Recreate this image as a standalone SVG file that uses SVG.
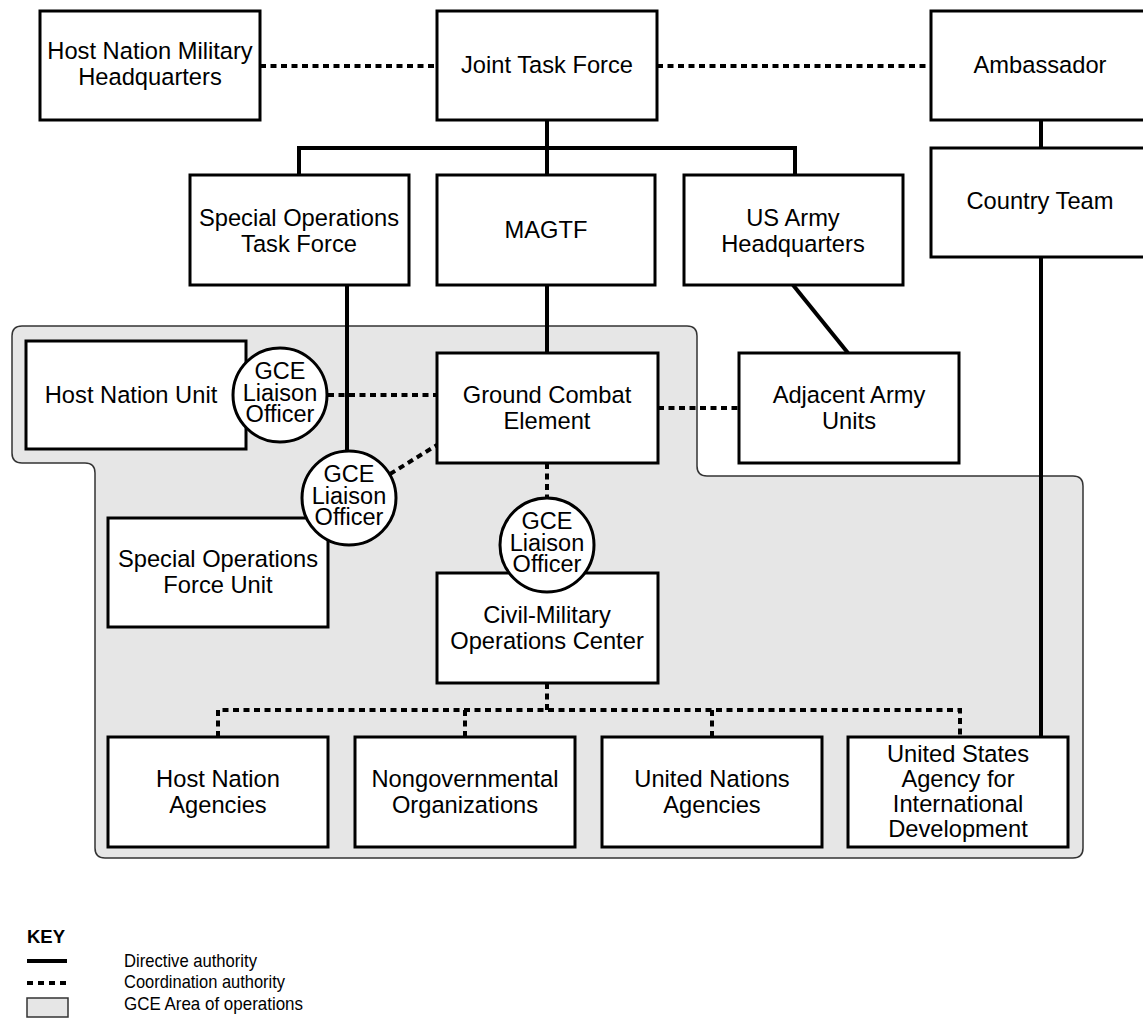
<svg xmlns="http://www.w3.org/2000/svg" width="1143" height="1019" viewBox="0 0 1143 1019">
  <style>
    .box { fill: #ffffff; stroke: #000000; stroke-width: 3; }
    .lo { fill: #ffffff; stroke: #000000; stroke-width: 3; }
    .lbl { font-family: "Liberation Sans", Arial, sans-serif; font-size: 23.7px; fill: #000000; text-anchor: middle; }
    .lol { font-family: "Liberation Sans", Arial, sans-serif; font-size: 23.5px; fill: #000000; text-anchor: middle; }
    .solid { stroke: #000000; stroke-width: 4; fill: none; }
    .dot { stroke: #000000; stroke-width: 4; fill: none; stroke-dasharray: 6 4.5; }
    .area { fill: #e6e6e6; stroke: #333333; stroke-width: 1.5; }
    .key { font-family: "Liberation Sans", Arial, sans-serif; font-size: 18.5px; fill: #000000; }
  </style>

  <!-- GCE area of operations -->
  <path id="gce-area" class="area" d="M 22 326 L 687 326 Q 697 326 697 336 L 697 466 Q 697 476 707 476 L 1073 476 Q 1083 476 1083 486 L 1083 848 Q 1083 858 1073 858 L 105 858 Q 95 858 95 848 L 95 473 Q 95 463 85 463 L 22 463 Q 12 463 12 453 L 12 336 Q 12 326 22 326 Z"/>

  <!-- connectors -->
  <g id="connectors">
    <!-- directive authority -->
    <line class="solid" x1="547" y1="120" x2="547" y2="148"/>
    <polyline class="solid" points="299,175 299,148 795,148 795,175"/>
    <line class="solid" x1="547" y1="148" x2="547" y2="175"/>
    <line class="solid" x1="547" y1="285" x2="547" y2="353"/>
    <line class="solid" x1="347" y1="285" x2="347" y2="451"/>
    <line class="solid" x1="793" y1="285" x2="848" y2="353"/>
    <line class="solid" x1="1041" y1="120" x2="1041" y2="148"/>
    <line class="solid" x1="1041" y1="257" x2="1041" y2="737"/>
    <!-- coordination authority -->
    <line class="dot" x1="260" y1="66" x2="437" y2="66"/>
    <line class="dot" x1="657" y1="66" x2="931" y2="66"/>
    <line class="dot" x1="328" y1="395" x2="437" y2="395"/>
    <line class="dot" x1="390" y1="474" x2="437" y2="445"/>
    <line class="dot" x1="658" y1="408" x2="739" y2="408"/>
    <line class="dot" x1="547" y1="463" x2="547" y2="498"/>
    <line class="dot" x1="547" y1="683" x2="547" y2="710"/>
    <polyline class="dot" points="218,737 218,710 960,710 960,737"/>
    <line class="dot" x1="465" y1="710" x2="465" y2="737"/>
    <line class="dot" x1="712" y1="710" x2="712" y2="737"/>
  </g>

  <!-- top row -->
  <g id="host-nation-military-hq">
    <rect class="box" x="40" y="11" width="220" height="109"/>
    <text class="lbl" x="150" y="59">Host Nation Military</text>
    <text class="lbl" x="150" y="85">Headquarters</text>
  </g>
  <g id="joint-task-force">
    <rect class="box" x="437" y="11" width="220" height="109"/>
    <text class="lbl" x="547" y="73">Joint Task Force</text>
  </g>
  <g id="ambassador">
    <rect class="box" x="931" y="11" width="220" height="109"/>
    <text class="lbl" x="1040" y="73">Ambassador</text>
  </g>
  <g id="country-team">
    <rect class="box" x="931" y="148" width="220" height="109"/>
    <text class="lbl" x="1040" y="209">Country Team</text>
  </g>

  <!-- second row -->
  <g id="special-operations-task-force">
    <rect class="box" x="190" y="175" width="219" height="110"/>
    <text class="lbl" x="299" y="226">Special Operations</text>
    <text class="lbl" x="299" y="252">Task Force</text>
  </g>
  <g id="magtf">
    <rect class="box" x="437" y="175" width="218" height="110"/>
    <text class="lbl" x="546" y="238">MAGTF</text>
  </g>
  <g id="us-army-hq">
    <rect class="box" x="684" y="175" width="219" height="110"/>
    <text class="lbl" x="793" y="226">US Army</text>
    <text class="lbl" x="793" y="252">Headquarters</text>
  </g>

  <!-- area nodes -->
  <g id="host-nation-unit">
    <rect class="box" x="26" y="341" width="220" height="108"/>
    <text class="lbl" x="131" y="403">Host Nation Unit</text>
  </g>
  <g id="ground-combat-element">
    <rect class="box" x="437" y="353" width="221" height="110"/>
    <text class="lbl" x="547" y="403">Ground Combat</text>
    <text class="lbl" x="547" y="429">Element</text>
  </g>
  <g id="adjacent-army-units">
    <rect class="box" x="739" y="353" width="220" height="110"/>
    <text class="lbl" x="849" y="403">Adjacent Army</text>
    <text class="lbl" x="849" y="429">Units</text>
  </g>
  <g id="special-operations-force-unit">
    <rect class="box" x="108" y="518" width="220" height="109"/>
    <text class="lbl" x="218" y="567">Special Operations</text>
    <text class="lbl" x="218" y="593">Force Unit</text>
  </g>
  <g id="cmoc">
    <rect class="box" x="437" y="573" width="221" height="110"/>
    <text class="lbl" x="547" y="623">Civil-Military</text>
    <text class="lbl" x="547" y="649">Operations Center</text>
  </g>

  <!-- bottom row -->
  <g id="host-nation-agencies">
    <rect class="box" x="108" y="737" width="220" height="110"/>
    <text class="lbl" x="218" y="787">Host Nation</text>
    <text class="lbl" x="218" y="813">Agencies</text>
  </g>
  <g id="nongovernmental-organizations">
    <rect class="box" x="355" y="737" width="220" height="110"/>
    <text class="lbl" x="465" y="787">Nongovernmental</text>
    <text class="lbl" x="465" y="813">Organizations</text>
  </g>
  <g id="united-nations-agencies">
    <rect class="box" x="602" y="737" width="220" height="110"/>
    <text class="lbl" x="712" y="787">United Nations</text>
    <text class="lbl" x="712" y="813">Agencies</text>
  </g>
  <g id="usaid">
    <rect class="box" x="848" y="737" width="220" height="110"/>
    <text class="lbl" x="958" y="762">United States</text>
    <text class="lbl" x="958" y="787">Agency for</text>
    <text class="lbl" x="958" y="812">International</text>
    <text class="lbl" x="958" y="837">Development</text>
  </g>

  <!-- liaison officers -->
  <g id="liaison-officer-1">
    <circle class="lo" cx="280" cy="395" r="47"/>
    <text class="lol" x="280" y="379">GCE</text>
    <text class="lol" x="280" y="401">Liaison</text>
    <text class="lol" x="280" y="422">Officer</text>
  </g>
  <g id="liaison-officer-2">
    <circle class="lo" cx="349" cy="498" r="47"/>
    <text class="lol" x="349" y="482">GCE</text>
    <text class="lol" x="349" y="504">Liaison</text>
    <text class="lol" x="349" y="525">Officer</text>
  </g>
  <g id="liaison-officer-3">
    <circle class="lo" cx="547" cy="545" r="47"/>
    <text class="lol" x="547" y="529">GCE</text>
    <text class="lol" x="547" y="551">Liaison</text>
    <text class="lol" x="547" y="572">Officer</text>
  </g>

  <!-- key -->
  <g id="key">
    <text class="key" x="27" y="943" font-size="17.5px" font-weight="bold">KEY</text>
    <line class="solid" x1="27" y1="961" x2="67" y2="961"/>
    <line x1="27" y1="983" x2="67" y2="983" stroke="#000" stroke-width="4" stroke-dasharray="6 5"/>
    <rect class="area" x="27" y="998" width="41" height="19"/>
    <text class="key" x="124" y="967" textLength="133" lengthAdjust="spacingAndGlyphs">Directive authority</text>
    <text class="key" x="124" y="988" textLength="161" lengthAdjust="spacingAndGlyphs">Coordination authority</text>
    <text class="key" x="124" y="1010" textLength="179" lengthAdjust="spacingAndGlyphs">GCE Area of operations</text>
  </g>
</svg>
